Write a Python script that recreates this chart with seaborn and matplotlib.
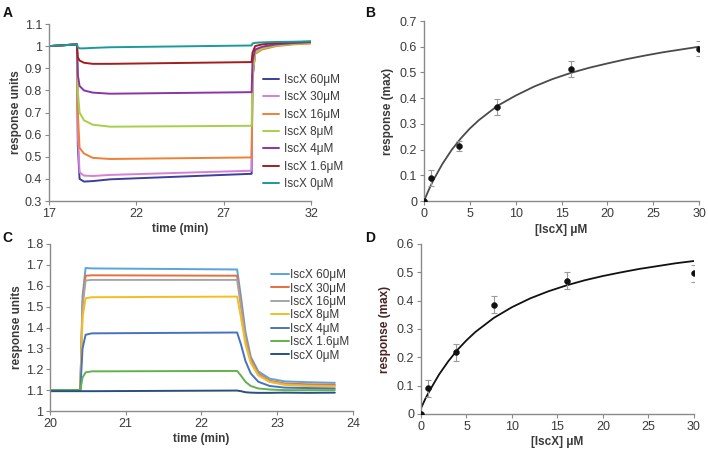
import numpy as np
import pandas as pd
import matplotlib
matplotlib.use("Agg")
import matplotlib.pyplot as plt
from matplotlib.ticker import FuncFormatter, MultipleLocator, FixedLocator
import seaborn as sns

sns.set_theme(style="white")
plt.rcParams['font.family'] = ['Liberation Sans', 'DejaVu Sans']

# ---------------- Data ----------------
labels = ["IscX 60\u03bcM", "IscX 30\u03bcM", "IscX 16\u03bcM", "IscX 8\u03bcM",
          "IscX 4\u03bcM", "IscX 1.6\u03bcM", "IscX 0\u03bcM"]

# Panel A sensorgram key points (time in min)
t_A = [17, 18.6, 18.65, 18.75, 19.0, 19.5, 20.5, 28.6, 28.65, 28.8, 29.2, 30, 31, 32]
A_60 = [1.0, 1.008, 0.55, 0.40, 0.388, 0.390, 0.398, 0.423, 0.85, 0.975, 0.995, 1.008, 1.015, 1.018]
A_30 = [1.0, 1.008, 0.60, 0.43, 0.415, 0.413, 0.418, 0.437, 0.86, 0.975, 0.995, 1.008, 1.015, 1.020]
A_16 = [1.0, 1.008, 0.70, 0.54, 0.515, 0.495, 0.490, 0.497, 0.86, 0.965, 0.985, 1.000, 1.008, 1.012]
A_8 = [1.0, 1.008, 0.80, 0.70, 0.665, 0.645, 0.636, 0.640, 0.88, 0.970, 0.990, 1.003, 1.010, 1.015]
A_4 = [1.0, 1.008, 0.87, 0.82, 0.800, 0.790, 0.785, 0.792, 0.93, 0.985, 0.997, 1.008, 1.014, 1.018]
A_1p6 = [1.0, 1.008, 0.95, 0.935, 0.925, 0.920, 0.920, 0.928, 0.97, 1.000, 1.008, 1.014, 1.018, 1.020]
A_0 = [1.0, 1.008, 0.995, 0.990, 0.990, 0.992, 0.995, 1.003, 1.012, 1.015, 1.017, 1.019, 1.020, 1.022]
A_series = [A_60, A_30, A_16, A_8, A_4, A_1p6, A_0]
colors_A = ["#3b3f9e", "#d77fd6", "#f07f35", "#a6d04a", "#8a34a6", "#a31d1d", "#1a9a9a"]
A_xticks = [17, 22, 27, 32]

# Panel C sensorgram key points
t_C = [20, 20.40, 20.43, 20.47, 20.55, 22.47, 22.52, 22.58, 22.65, 22.75, 22.9, 23.1, 23.4, 23.76]
C_60 = [1.1, 1.1, 1.55, 1.685, 1.683, 1.678, 1.55, 1.38, 1.26, 1.19, 1.155, 1.142, 1.138, 1.135]
C_30 = [1.1, 1.1, 1.52, 1.648, 1.650, 1.648, 1.52, 1.36, 1.25, 1.18, 1.145, 1.132, 1.128, 1.126]
C_16 = [1.1, 1.1, 1.50, 1.625, 1.628, 1.628, 1.50, 1.35, 1.24, 1.175, 1.140, 1.128, 1.122, 1.120]
C_8 = [1.1, 1.1, 1.45, 1.540, 1.545, 1.548, 1.45, 1.32, 1.23, 1.17, 1.140, 1.125, 1.120, 1.118]
C_4 = [1.1, 1.1, 1.30, 1.365, 1.372, 1.376, 1.32, 1.24, 1.18, 1.14, 1.120, 1.112, 1.110, 1.108]
C_1p6 = [1.1, 1.1, 1.16, 1.185, 1.190, 1.192, 1.17, 1.14, 1.12, 1.108, 1.103, 1.100, 1.100, 1.100]
C_0 = [1.095, 1.095, 1.095, 1.095, 1.095, 1.098, 1.095, 1.090, 1.088, 1.087, 1.087, 1.088, 1.087, 1.088]
C_series = [C_60, C_30, C_16, C_8, C_4, C_1p6, C_0]
colors_C = ["#5ba3dc", "#e5703c", "#a5a5a5", "#f5bd22", "#4573c2", "#63b04f", "#26517f"]

# Panel B: binding points and fit curve
conc = [0, 0.8, 3.8, 8, 16, 30]
B_resp = [0.0, 0.09, 0.215, 0.365, 0.513, 0.593]
B_err = [0.0, 0.03, 0.02, 0.03, 0.03, 0.03]
fit_x = [0, 0.5, 1, 2, 3, 4, 5, 6, 8, 10, 12, 14, 16, 18, 20, 22, 24, 26, 28, 30]
B_fit = [0.0, 0.042, 0.080, 0.144, 0.198, 0.243, 0.282, 0.315, 0.370, 0.410, 0.445,
         0.474, 0.498, 0.518, 0.535, 0.551, 0.565, 0.578, 0.589, 0.600]

# Panel D
D_resp = [0.0, 0.09, 0.218, 0.385, 0.470, 0.497]
D_err = [0.0, 0.03, 0.03, 0.03, 0.03, 0.03]
D_fit = [0.02, 0.055, 0.085, 0.140, 0.186, 0.226, 0.260, 0.290, 0.339, 0.377, 0.408,
         0.433, 0.454, 0.472, 0.487, 0.500, 0.512, 0.522, 0.532, 0.540]

# ---------------- Figure ----------------
fig = plt.figure(figsize=(7.08, 4.49), dpi=100)
axA = fig.add_axes([0.0692, 0.5523, 0.3701, 0.3942])
axB = fig.add_axes([0.5989, 0.5523, 0.3884, 0.4009])
axC = fig.add_axes([0.0706, 0.0846, 0.4280, 0.3720])
axD = fig.add_axes([0.5946, 0.0780, 0.3856, 0.3786])

axis_col = "#8a8a8a"
txt_col = "#3a3a3a"
fmt = FuncFormatter(lambda v, p: "%g" % round(v, 3))


def style(ax):
    for s in ["top", "right"]:
        ax.spines[s].set_visible(False)
    for s in ["left", "bottom"]:
        ax.spines[s].set_color(axis_col)
        ax.spines[s].set_linewidth(1.0)
    ax.tick_params(axis="both", direction="out", length=3, width=0.8, color=axis_col,
                   labelsize=9, labelcolor=txt_col, pad=2, bottom=True, left=True)
    ax.xaxis.set_major_formatter(fmt)
    ax.yaxis.set_major_formatter(fmt)
    ax.grid(False)


# Panel A
rowsA = []
for lab, vals in zip(labels, A_series):
    for t, v in zip(t_A, vals):
        rowsA.append((lab, t, v))
dfA = pd.DataFrame(rowsA, columns=["series", "time", "value"])
sns.lineplot(data=dfA, x="time", y="value", hue="series", hue_order=labels,
             palette=colors_A, ax=axA, linewidth=1.4, sort=False, estimator=None)
axA.set_xlim(17, 32)
axA.set_ylim(0.3, 1.1)
axA.xaxis.set_major_locator(FixedLocator(A_xticks))
axA.yaxis.set_major_locator(MultipleLocator(0.1))
style(axA)
axA.set_xlabel("time (min)", fontsize=8.5, fontweight="bold", color=txt_col, labelpad=2)
axA.set_ylabel("response units", fontsize=8.5, fontweight="bold", color=txt_col, labelpad=2)
legA = axA.legend(loc="upper left", bbox_to_anchor=(0.795, 0.75), frameon=False,
                  fontsize=8.5, handlelength=1.3, handletextpad=0.5, labelspacing=0.45,
                  borderpad=0)
for t in legA.get_texts():
    t.set_color(txt_col)

# Panel B
sns.lineplot(x=fit_x, y=B_fit, ax=axB, color="#4a4a4a", linewidth=1.3)
axB.errorbar(conc, B_resp, yerr=B_err, fmt="none", ecolor="#999999", elinewidth=0.8,
             capsize=2, capthick=0.8)
sns.scatterplot(x=conc, y=B_resp, ax=axB, color="#111111", s=18, edgecolor="#111111", zorder=5)
axB.set_xlim(0, 30)
axB.set_ylim(0, 0.7)
axB.xaxis.set_major_locator(MultipleLocator(5))
axB.yaxis.set_major_locator(MultipleLocator(0.1))
style(axB)
axB.set_xlabel("[IscX] \u03bcM", fontsize=8.5, fontweight="bold", color=txt_col, labelpad=3)
axB.set_ylabel("response (max)", fontsize=8.5, fontweight="bold", color=txt_col, labelpad=4)

# Panel C
rowsC = []
for lab, vals in zip(labels, C_series):
    for t, v in zip(t_C, vals):
        rowsC.append((lab, t, v))
dfC = pd.DataFrame(rowsC, columns=["series", "time", "value"])
sns.lineplot(data=dfC, x="time", y="value", hue="series", hue_order=labels,
             palette=colors_C, ax=axC, linewidth=1.4, sort=False, estimator=None)
axC.set_xlim(20, 24)
axC.set_ylim(1.0, 1.8)
axC.xaxis.set_major_locator(MultipleLocator(1))
axC.yaxis.set_major_locator(MultipleLocator(0.1))
style(axC)
axC.set_xlabel("time (min)", fontsize=8.5, fontweight="bold", color=txt_col, labelpad=2)
axC.set_ylabel("response units", fontsize=8.5, fontweight="bold", color=txt_col, labelpad=2)
legC = axC.legend(loc="upper left", bbox_to_anchor=(0.71, 0.885), frameon=False,
                  fontsize=8.5, handlelength=1.5, handletextpad=0.1, labelspacing=0.12,
                  borderpad=0)
for t in legC.get_texts():
    t.set_color(txt_col)

# Panel D
sns.lineplot(x=fit_x, y=D_fit, ax=axD, color="#111111", linewidth=1.3)
axD.errorbar(conc, D_resp, yerr=D_err, fmt="none", ecolor="#999999", elinewidth=0.8,
             capsize=2, capthick=0.8)
sns.scatterplot(x=conc, y=D_resp, ax=axD, color="#111111", s=18, edgecolor="#111111", zorder=5)
axD.set_xlim(0, 30)
axD.set_ylim(0, 0.6)
axD.xaxis.set_major_locator(MultipleLocator(5))
axD.yaxis.set_major_locator(MultipleLocator(0.1))
style(axD)
axD.set_xlabel("[IscX] \u03bcM", fontsize=8.5, fontweight="bold", color=txt_col, labelpad=2)
axD.set_ylabel("response (max)", fontsize=8.5, fontweight="bold", color="#4a2424", labelpad=4)

# Panel letters
fig.text(0.004, 0.962, "A", fontsize=10, fontweight="bold", color="#111111")
fig.text(0.516, 0.962, "B", fontsize=10, fontweight="bold", color="#111111")
fig.text(0.004, 0.462, "C", fontsize=10, fontweight="bold", color="#111111")
fig.text(0.516, 0.462, "D", fontsize=10, fontweight="bold", color="#111111")

fig.savefig("out.png", dpi=100, facecolor="white")
